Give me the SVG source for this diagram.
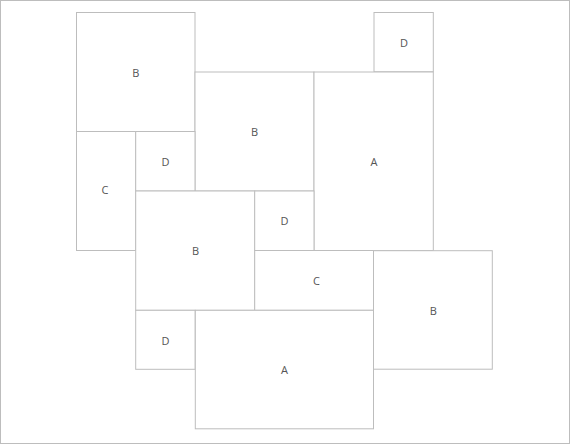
<svg xmlns="http://www.w3.org/2000/svg" width="570" height="444" viewBox="0 0 570 444">
<style>
.r{fill:#fff;stroke:#bdbdbd;stroke-width:1}
.t{font-family:"Open Sans","Liberation Sans",sans-serif;font-size:11px;fill:#555;text-anchor:middle;dominant-baseline:central}
</style>
<rect x="0.5" y="0.5" width="569" height="443" fill="#fff" stroke="#bdbdbd"/>
<g id="n1"><rect class="r" x="76.5" y="12.5" width="118.5" height="119"/><text class="t" x="135.7" y="72.5">B</text></g>
<g id="n2"><rect class="r" x="374" y="12.5" width="59.3" height="59.3"/><text class="t" x="404" y="42.5">D</text></g>
<g id="n3"><rect class="r" x="195" y="72" width="119" height="119"/><text class="t" x="254.5" y="131.5">B</text></g>
<g id="n4"><rect class="r" x="314" y="72" width="119.3" height="178.5"/><text class="t" x="374" y="161.5">A</text></g>
<g id="n5"><rect class="r" x="76.5" y="131.5" width="59.2" height="119"/><text class="t" x="105" y="189.5">C</text></g>
<g id="n6"><rect class="r" x="135.7" y="131.5" width="59.3" height="59.5"/><text class="t" x="165.5" y="161.5">D</text></g>
<g id="n7"><rect class="r" x="135.7" y="191" width="119" height="119.3"/><text class="t" x="195.5" y="250.5">B</text></g>
<g id="n8"><rect class="r" x="254.7" y="191" width="59.3" height="59.5"/><text class="t" x="284.5" y="220.5">D</text></g>
<g id="n9"><rect class="r" x="254.7" y="250.5" width="118.8" height="59.8"/><text class="t" x="316.5" y="280.5">C</text></g>
<g id="n10"><rect class="r" x="373.5" y="250.7" width="118.8" height="118.5"/><text class="t" x="433.3" y="310.5">B</text></g>
<g id="n11"><rect class="r" x="135.7" y="310.3" width="59.5" height="59"/><text class="t" x="165.5" y="340">D</text></g>
<g id="n12"><rect class="r" x="195.3" y="310.3" width="178.2" height="118.5"/><text class="t" x="284.5" y="369.5">A</text></g>
<g id="connectors"></g>
</svg>
